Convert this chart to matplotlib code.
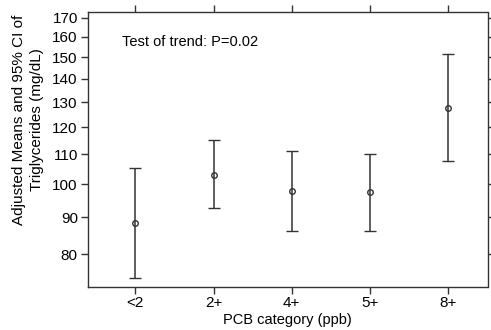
import numpy as np
from matplotlib import pyplot as plt
from matplotlib.ticker import FixedLocator, NullLocator

plt.rcParams['font.family'] = ['Liberation Sans', 'DejaVu Sans']

categories = ["<2", "2+", "4+", "5+", "8+"]
means = [88.4, 103.1, 97.8, 97.6, 127.5]
lower = [74.2, 92.6, 86.1, 86.2, 107.6]
upper = [105.3, 115.0, 111.1, 110.2, 151.3]
yticks = [80, 90, 100, 110, 120, 130, 140, 150, 160, 170]

x = np.arange(1, len(categories) + 1)
means = np.array(means)
yerr = [means - np.array(lower), np.array(upper) - means]

fig = plt.figure(figsize=(4.91, 3.30), dpi=100)
ax = fig.add_axes([87.5 / 491, 1 - 286.5 / 330, 400 / 491, 275 / 330])

col = '#333333'
ax.errorbar(x, means, yerr=yerr, fmt='o', color=col, ecolor=col,
            elinewidth=1.1, capsize=4, capthick=1.1,
            markersize=4, markerfacecolor='none', markeredgewidth=1.0)

ax.set_yscale('log')
ax.set_ylim(72.2, 173.5)
ax.set_xlim(0.39, 5.5)
ax.yaxis.set_major_locator(FixedLocator(yticks))
ax.yaxis.set_minor_locator(NullLocator())
ax.set_yticklabels([str(t) for t in yticks])
ax.set_xticks(x)
ax.set_xticklabels(categories)

ax.tick_params(axis='both', which='major', direction='out', length=5,
               width=1, labelsize=11, pad=2, color=col,
               top=True, right=True)
for s in ax.spines.values():
    s.set_color(col)
    s.set_linewidth(1)

ax.set_xlabel("PCB category (ppb)", fontsize=10.5, labelpad=2)
fig.text(28 / 491, 1 - 120 / 330,
         "Adjusted Means and 95% CI of\nTriglycerides (mg/dL)",
         rotation=90, ha='center', va='center', fontsize=11,
         multialignment='center', linespacing=1.3)

ax.text(0.085, 0.89, "Test of trend: P=0.02", transform=ax.transAxes,
        fontsize=10.5, ha='left', va='center')

fig.savefig("out.png", dpi=100)
